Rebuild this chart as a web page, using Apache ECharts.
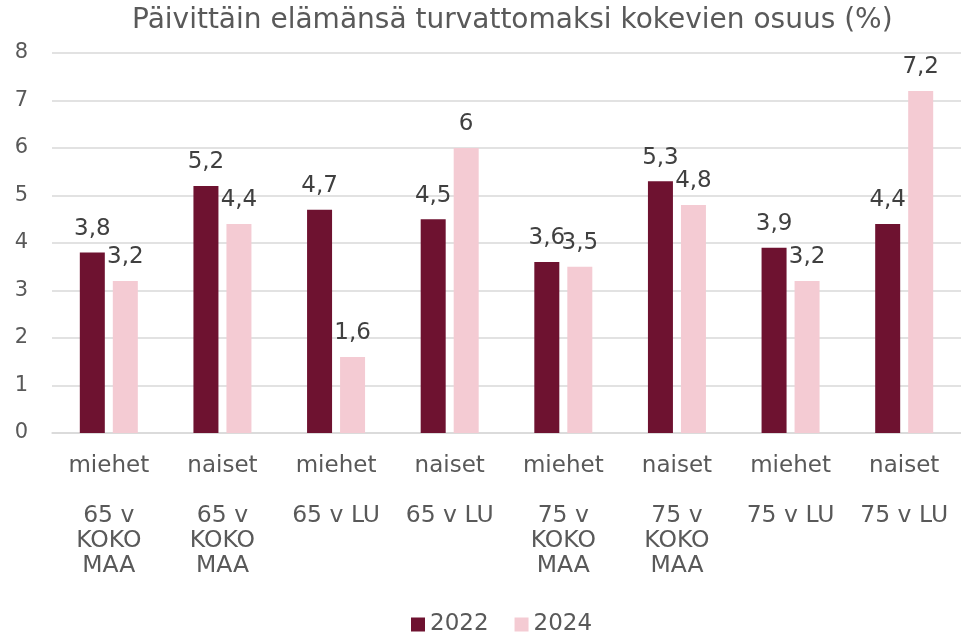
<!DOCTYPE html>
<html>
<head>
<meta charset="utf-8">
<script src="https://cdn.jsdelivr.net/npm/echarts@6/dist/echarts.min.js"></script>
<style>
  html, body { margin: 0; padding: 0; background: #fff; }
  #chart { width: 961px; height: 636px; }
</style>
</head>
<body>
<div id="chart"></div>
<script>
// sukupuoli ja ryhmä
var genderLabels = ['miehet', 'naiset', 'miehet', 'naiset', 'miehet', 'naiset', 'miehet', 'naiset'];
var groupLabels = ['65 v\nKOKO\nMAA', '65 v\nKOKO\nMAA', '65 v LU', '65 v LU',
                   '75 v\nKOKO\nMAA', '75 v\nKOKO\nMAA', '75 v LU', '75 v LU'];
var values2022 = [3.8, 5.2, 4.7, 4.5, 3.6, 5.3, 3.9, 4.4];
var values2024 = [3.2, 4.4, 1.6, 6.0, 3.5, 4.8, 3.2, 7.2];
var yTicks = [0, 1, 2, 3, 4, 5, 6, 7, 8];

var FONT = 'DejaVu Sans, Verdana, sans-serif';
var TXT = '#595959';

function fmt(v) {
  return String(v).replace('.', ',');
}

var valueLabel = {
  show: true,
  position: 'top',
  distance: 12,
  color: '#404040',
  fontFamily: FONT,
  fontSize: 23,
  formatter: function (p) { return fmt(p.value); }
};

var option = {
  animation: false,
  title: {
    text: 'Päivittäin elämänsä turvattomaksi kokevien osuus (%)',
    left: 127,
    top: 2,
    textStyle: { color: TXT, fontFamily: FONT, fontSize: 28, fontWeight: 'normal' }
  },
  legend: {
    bottom: 0,
    left: 411,
    padding: 0,
    itemWidth: 14,
    itemHeight: 14,
    itemGap: 26,
    icon: 'rect',
    textStyle: { color: TXT, fontFamily: FONT, fontSize: 23 },
    data: ['2022', '2024']
  },
  grid: { left: 52, right: -4, top: 53, height: 380 },
  xAxis: [
    {
      type: 'category',
      data: genderLabels,
      axisLine: { lineStyle: { color: '#d9d9d9', width: 1.5 } },
      axisTick: { show: false },
      axisLabel: { interval: 0, margin: 21, color: TXT, fontFamily: FONT, fontSize: 23, lineHeight: 25 }
    },
    {
      type: 'category',
      position: 'bottom',
      offset: 49,
      data: groupLabels,
      axisLine: { show: false },
      axisTick: { show: false },
      axisLabel: { interval: 0, margin: 21, color: TXT, fontFamily: FONT, fontSize: 23.5, lineHeight: 25 }
    }
  ],
  yAxis: {
    type: 'value',
    min: yTicks[0],
    max: yTicks[yTicks.length - 1],
    interval: 1,
    axisLine: { show: false },
    axisTick: { show: false },
    splitLine: { lineStyle: { color: '#d9d9d9', width: 1.5 } },
    axisLabel: { margin: 24, color: TXT, fontFamily: FONT, fontSize: 21 }
  },
  series: [
    {
      name: '2022',
      type: 'bar',
      xAxisIndex: 0,
      data: values2022,
      barWidth: 25,
      barGap: '32%',
      itemStyle: { color: '#6e1230' },
      label: valueLabel
    },
    {
      name: '2024',
      type: 'bar',
      xAxisIndex: 0,
      data: values2024,
      barWidth: 25,
      itemStyle: { color: '#f4cbd3' },
      label: valueLabel
    }
  ]
};

var chart = echarts.init(document.getElementById('chart'));
chart.setOption(option);
</script>
</body>
</html>
